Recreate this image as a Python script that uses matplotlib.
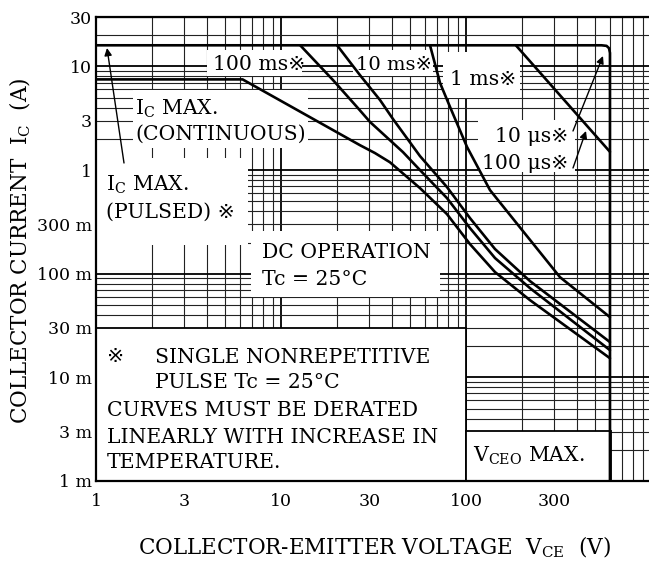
import matplotlib
matplotlib.use('Agg')
import matplotlib.pyplot as plt
from matplotlib.patches import Rectangle
from matplotlib.ticker import FixedLocator, FixedFormatter, NullFormatter

# ---------------- data ----------------
ic_pulsed_max = 16.0     # A
ic_cont_max = 7.5        # A
vceo_max = 600.0         # V

pulsed_v = [1, 540, 575, 593, 600, 600]
pulsed_i = [16, 16, 15.8, 15.0, 13.5, 0.001]

dc_v = [1, 6.2, 26.7, 32.2, 38.8, 56.4, 78.9, 105.1, 143.5, 221.8, 600]
dc_i = [7.5, 7.5, 1.74, 1.46, 1.19, 0.67, 0.376, 0.193, 0.1037, 0.0556, 0.0153]

ms100_v = [12.7, 19.1, 25.75, 30.3, 45.65, 56.4, 78.9, 105.1, 143.5, 221.8, 600]
ms100_i = [16, 7.39, 4.06, 2.91, 1.49, 1.0, 0.537, 0.2755, 0.1416, 0.0726, 0.0183]

ms10_v = [20.1, 26.7, 34.3, 40.3, 56.4, 78.9, 105.1, 143.5, 221.8, 600]
ms10_i = [16, 8.26, 4.74, 3.11, 1.365, 0.686, 0.344, 0.173, 0.0849, 0.0219]

ms1_v = [63.9, 72.4, 82, 101.3, 134.8, 322, 600]
ms1_i = [16, 6.92, 4.06, 1.67, 0.641, 0.0927, 0.0381]

us100_v = [186, 600]
us100_i = [16, 1.5]

x_ticks = [1, 3, 10, 30, 100, 300]
x_labels = ['1', '3', '10', '30', '100', '300']
y_ticks = [1e-3, 3e-3, 1e-2, 3e-2, 0.1, 0.3, 1, 3, 10, 30]
y_labels = ['1 m', '3 m', '10 m', '30 m', '100 m', '300 m', '1', '3', '10', '30']

# ---------------- layout ----------------
W, H = 649, 561
AX_L, AX_R, AX_T, AX_B = 96, 651, 17, 481
plt.rcParams['mathtext.fontset'] = 'dejavuserif'
FAM = ['DejaVu Serif', 'DejaVu Sans', 'Noto Sans CJK JP']

fig = plt.figure(figsize=(W / 100, H / 100), dpi=100)
ax = fig.add_axes([AX_L / W, 1 - AX_B / H, (AX_R - AX_L) / W, (AX_B - AX_T) / H])
ax.set_xscale('log')
ax.set_yscale('log')
ax.set_xlim(1, 1000)
ax.set_ylim(1e-3, 30)


def A(px, py):
    return ((px - AX_L) / (AX_R - AX_L), (AX_B - py) / (AX_B - AX_T))


# grid
ax.set_axisbelow(True)
ax.xaxis.set_major_locator(FixedLocator(x_ticks))
ax.xaxis.set_major_formatter(FixedFormatter(x_labels))
ax.yaxis.set_major_locator(FixedLocator(y_ticks))
ax.yaxis.set_major_formatter(FixedFormatter(y_labels))
ax.xaxis.set_minor_formatter(NullFormatter())
ax.yaxis.set_minor_formatter(NullFormatter())
for d in [1, 10, 100]:
    for m in range(2, 10):
        ax.axvline(d * m, color='#222222', lw=0.8, zorder=0.5)
    ax.axvline(d, color='black', lw=1.3, zorder=0.5)
for d in [1e-3, 1e-2, 1e-1, 1, 10]:
    for m in range(2, 10):
        if d * m <= 30:
            ax.axhline(d * m, color='#222222', lw=0.8, zorder=0.5)
    ax.axhline(d, color='black', lw=1.3, zorder=0.5)

ax.tick_params(which='both', length=0)
ax.tick_params(axis='y', pad=3, labelsize=12.5)
ax.tick_params(axis='x', pad=9, labelsize=12.5)
for lab in ax.get_xticklabels() + ax.get_yticklabels():
    lab.set_family(FAM)
for s in ax.spines.values():
    s.set_linewidth(1.6)

# white text boxes (layout, in pixel coords)
boxes = [
    (96, 481, 466, 328, True),     # note box
    (466, 481, 611, 431, True),    # VCEO box
    (96, 245, 248, 158, False),    # pulsed label
    (133, 148, 308, 90, False),    # continuous label
    (207, 76, 302, 50, False),     # 100 ms
    (353, 76, 433, 50, False),     # 10 ms
    (443, 98, 520, 52, False),     # 1 ms
    (478, 172, 575, 120, False),   # 10/100 us
    (251, 297, 440, 231, False),   # DC operation
]
for x0, y0, x1, y1, edge in boxes:
    (fx0, fy0), (fx1, fy1) = A(x0, y0), A(x1, y1)
    ax.add_patch(Rectangle((fx0, fy0), fx1 - fx0, fy1 - fy0, transform=ax.transAxes,
                           facecolor='white', edgecolor='black' if edge else 'none',
                           lw=1.3, zorder=1))

# curves
kw = dict(color='black', lw=1.9, zorder=4, solid_joinstyle='round', solid_capstyle='round')
ax.plot(pulsed_v, pulsed_i, **kw)
ax.plot(dc_v, dc_i, **kw)
ax.plot(ms100_v, ms100_i, **kw)
ax.plot(ms10_v, ms10_i, **kw)
ax.plot(ms1_v, ms1_i, **kw)
ax.plot(us100_v, us100_i, **kw)

# annotations
FS = 14.7


def T(px, py, s, ha='left', fam=FAM, fs=FS):
    ax.text(*A(px, py), s, transform=ax.transAxes, ha=ha, va='baseline',
            fontsize=fs, family=fam, zorder=5)


T(213, 70, '100 ms※')
T(356, 70, '10 ms※', fs=14)
T(450, 85, '1 ms※')
T(568, 142, '10 μs※', ha='right')
T(568, 169, '100 μs※', ha='right')
T(135, 115, r'I$_\mathrm{C}$ MAX.', fam='DejaVu Serif')
T(135, 140, '(CONTINUOUS)')
T(106, 191, r'I$_\mathrm{C}$ MAX.', fam='DejaVu Serif')
T(106, 218, '(PULSED) ※')
T(262, 258, 'DC OPERATION')
T(262, 285, 'Tc = 25°C')
T(107, 362, '※')
T(155, 363, 'SINGLE NONREPETITIVE')
T(155, 388, 'PULSE Tc = 25°C')
T(107, 416, 'CURVES MUST BE DERATED')
T(107, 443, 'LINEARLY WITH INCREASE IN')
T(107, 468, 'TEMPERATURE.')
T(473, 462, r'V$_\mathrm{CEO}$ MAX.', fam='DejaVu Serif')

ap = dict(arrowstyle='-|>', lw=1.0, color='black', mutation_scale=11, shrinkA=0, shrinkB=0)
ax.annotate('', xy=A(107, 48), xytext=A(124, 163), xycoords='axes fraction',
            textcoords='axes fraction', arrowprops=ap, zorder=5)
ax.annotate('', xy=A(603, 56), xytext=A(573, 131), xycoords='axes fraction',
            textcoords='axes fraction', arrowprops=ap, zorder=5)
ax.annotate('', xy=A(586, 131), xytext=A(573, 168), xycoords='axes fraction',
            textcoords='axes fraction', arrowprops=ap, zorder=5)

fig.text(374 / W, 1 - 547 / H, r'COLLECTOR-EMITTER VOLTAGE  V$_\mathrm{CE}$  (V)',
         ha='center', va='center', fontsize=15.5, family='DejaVu Serif')
fig.text(20 / W, 1 - 251 / H, r'COLLECTOR CURRENT  I$_\mathrm{C}$  (A)',
         ha='center', va='center', rotation=90, fontsize=15.5, family='DejaVu Serif')

fig.savefig('out.png', dpi=100)
